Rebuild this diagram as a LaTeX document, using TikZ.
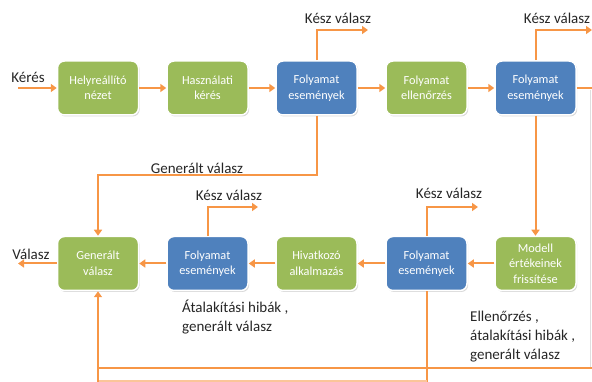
\documentclass[tikz,border=0pt]{standalone}
\usepackage{fontspec}
\setmainfont{Carlito}
\usetikzlibrary{arrows.meta,shadows}
\definecolor{boxgreen}{HTML}{9BBB59}
\definecolor{boxblue}{HTML}{4F81BD}
\definecolor{flow}{HTML}{F79646}

\begin{document}
\begin{tikzpicture}[x=1pt,y=-1pt,
  stage/.style={rounded corners=7pt, minimum width=81pt, minimum height=54pt,
    draw=white, line width=1.5pt, text=white, align=center,
    font=\fontsize{12.3}{15.5}\selectfont,
    drop shadow={shadow xshift=1.2pt, shadow yshift=-1.5pt, opacity=0.3}},
  gstage/.style={stage, fill=boxgreen},
  bstage/.style={stage, fill=boxblue},
  plain/.style={draw=flow, line width=2pt},
  flowline/.style={plain, -{Triangle[length=6pt,width=8pt]}},
  lbl/.style={font=\fontsize{15}{19}\selectfont, text=black!85, inner sep=0pt}
]
\useasboundingbox (0,0) rectangle (592,382);

% top row
\node[gstage] (hn)  at (98,88)    {Helyreállító\\nézet};
\node[gstage] (hk)  at (207.5,88) {Használati\\kérés};
\node[bstage] (fa)  at (316.5,88) {Folyamat\\események};
\node[gstage] (fe)  at (426.5,88) {Folyamat\\ellenőrzés};
\node[bstage] (fb)  at (535.5,88) {Folyamat\\események};

% bottom row
\node[gstage] (gv)  at (98,263.5)    {Generált\\válasz};
\node[bstage] (fc)  at (207.5,263.5) {Folyamat\\események};
\node[gstage] (ha)  at (316.5,263.5) {Hivatkozó\\alkalmazás};
\node[bstage] (fd)  at (426.5,263.5) {Folyamat\\események};
\node[gstage] (mf)  at (535.5,263.5) {Modell\\értékeinek\\frissítése};

% free ends
\coordinate (kin)  at (18,88);
\coordinate (vout) at (18,263.5);
\coordinate (ka)   at (368,30);
\coordinate (kb)   at (592,30);
\coordinate (kc)   at (258,207);
\coordinate (kd)   at (478,207);
\coordinate (re)   at (592,88);
\coordinate (gturn) at (98,175);
\coordinate (r368) at (592,368);
\coordinate (l368) at (98,368);
\coordinate (gb)   at (98,382);
\coordinate (fdb)  at (426.5,382);
\coordinate (lowl) at (98,381);
\coordinate (lowr) at (426.5,381);
\coordinate (edgeA) at (590,90);
\coordinate (edgeB) at (590,367);

% connectors of the top row
\draw[flowline] (kin) -- (hn.west);
\draw[flowline] (hn) -- (hk);
\draw[flowline] (hk) -- (fa);
\draw[flowline] (fa) -- (fe);
\draw[flowline] (fe) -- (fb);
\draw[flowline] (fa.north) |- (ka);
\draw[flowline] (fb.north) |- (kb);
\draw[plain] (fb.east) -- (re);
\draw[gray!25, line width=0.8pt] (edgeA) -- (edgeB);
\draw[flowline] (fb.south) -- (mf.north);
\draw[flowline] (fa.south) |- (gturn) -- (gv.north);

% connectors of the bottom row
\draw[flowline] (mf) -- (fd);
\draw[flowline] (fd) -- (ha);
\draw[flowline] (ha) -- (fc);
\draw[flowline] (fc) -- (gv);
\draw[flowline] (gv.west) -- (vout);
\draw[flowline] (fc.north) |- (kc);
\draw[flowline] (fd.north) |- (kd);
\draw[plain] (fd.south) -- (fdb);
\draw[plain] (r368) -- (l368);
\draw[plain, flow!55] (lowr) -- (lowl);
\draw[flowline] (gb) -- (gv.south);

% labels
\node[lbl] (tk)  at (28,77)   {Kérés};
\node[lbl] (tka) at (338,18)  {Kész válasz};
\node[lbl] (tkb) at (557,18)  {Kész válasz};
\node[lbl] (tgv) at (197,168) {Generált válasz};
\node[lbl] (tkc) at (229,195) {Kész válasz};
\node[lbl] (tkd) at (449,193) {Kész válasz};
\node[lbl] (tv)  at (31,254)  {Válasz};
\node[lbl, anchor=north west, align=left] (tah) at (182,300)
  {Átalakítási hibák ,\\generált válasz};
\node[lbl, anchor=north west, align=left] (tel) at (470,311)
  {Ellenőrzés ,\\átalakítási hibák ,\\generált válasz};
\end{tikzpicture}
\end{document}
